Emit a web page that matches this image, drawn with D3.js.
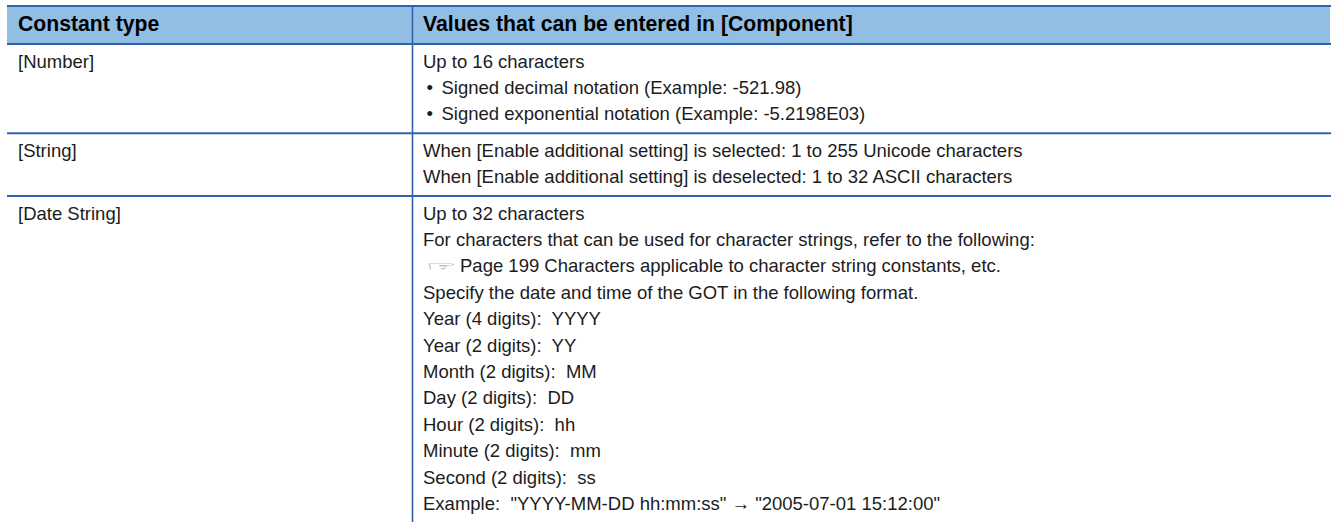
<!DOCTYPE html>
<html>
<head>
<meta charset="utf-8">
<script src="https://cdn.jsdelivr.net/npm/d3@7/dist/d3.min.js"></script>
<style>
  html, body { margin: 0; padding: 0; background: #ffffff; }
  svg { display: block; }
  text { white-space: pre; }
</style>
</head>
<body>
<svg id="tbl" width="1332" height="522"></svg>
<script>
// ---- table content ----
const headers = ["Constant type", "Values that can be entered in [Component]"];
const constantTypes = ["[Number]", "[String]", "[Date String]"];
const numberLines = [
  {t: "Up to 16 characters"},
  {t: "Signed decimal notation (Example: -521.98)", bullet: true},
  {t: "Signed exponential notation (Example: -5.2198E03)", bullet: true}
];
const stringLines = [
  {t: "When [Enable additional setting] is selected: 1 to 255 Unicode characters"},
  {t: "When [Enable additional setting] is deselected: 1 to 32 ASCII characters"}
];
const dateStringLines = [
  {t: "Up to 32 characters"},
  {t: "For characters that can be used for character strings, refer to the following:"},
  {t: "Page 199 Characters applicable to character string constants, etc.", ref: true},
  {t: "Specify the date and time of the GOT in the following format."},
  {t: "Year (4 digits):  YYYY"},
  {t: "Year (2 digits):  YY"},
  {t: "Month (2 digits):  MM"},
  {t: "Day (2 digits):  DD"},
  {t: "Hour (2 digits):  hh"},
  {t: "Minute (2 digits):  mm"},
  {t: "Second (2 digits):  ss"},
  {t: "Example:  \"YYYY-MM-DD hh:mm:ss\" \u2192 \"2005-07-01 15:12:00\""}
];
const componentValues = [numberLines, stringLines, dateStringLines];

// ---- layout ----
const W = 1332, H = 522;
const left = 7, right = 1331;
const colX = 412.5;
const topY = 6;
const headerBottom = 44;
const lineH = 26.4;
const padV = 8;
const firstBase = 22.6;
const borderColor = "#3162b0";
const headerFill = "#93bee4";
const font = "'Liberation Sans', Arial, Helvetica, sans-serif";
const bodySize = 18.5, headSize = 21.2;
const textColor = "#1c1c1c";

const svg = d3.select("#tbl");

// row positions
let y = headerBottom + 1;
const rows = constantTypes.map((c, i) => {
  const lines = componentValues[i];
  const h = lines.length * lineH + padV;
  const r = {type: c, lines, y0: y, h};
  y += h + 2;
  return r;
});

// header background
svg.append("rect").attr("x", left).attr("y", topY + 1).attr("width", right - 1 - left)
  .attr("height", headerBottom - topY - 1).attr("fill", headerFill);

// header text
svg.selectAll("text.head").data(headers).join("text")
  .attr("class", "head")
  .attr("x", (d, i) => i === 0 ? 18 : 423)
  .attr("y", 30.8)
  .attr("font-family", font).attr("font-size", headSize).attr("font-weight", "bold")
  .attr("fill", "#000").text(d => d);

// row text
const g = svg.selectAll("g.row").data(rows).join("g").attr("class", "row");
g.append("text")
  .attr("x", 18).attr("y", d => d.y0 + firstBase)
  .attr("font-family", font).attr("font-size", bodySize).attr("fill", textColor)
  .text(d => d.type);

g.each(function(r) {
  const gg = d3.select(this);
  r.lines.forEach((ln, k) => {
    const by = r.y0 + firstBase + k * lineH;
    let tx = 423;
    if (ln.bullet) {
      gg.append("text").attr("x", 426.5).attr("y", by)
        .attr("font-family", font).attr("font-size", bodySize).attr("fill", textColor)
        .text("\u2022");
      tx = 441.5;
    }
    if (ln.ref) {
      gg.append("text")
        .attr("transform", `translate(426,${by - 1.5}) scale(2.0,0.8)`)
        .attr("font-family", "'DejaVu Sans', sans-serif").attr("font-size", 17)
        .attr("fill", "#8c8c8c").text("\u261E");
      tx = 460;
    }
    gg.append("text").attr("x", tx).attr("y", by)
      .attr("font-family", font).attr("font-size", bodySize).attr("fill", textColor)
      .text(ln.t);
  });
});

// borders
const hLines = [topY, headerBottom].concat(rows.slice(0, -1).map(r => r.y0 + r.h + 1));
svg.selectAll("line.h").data(hLines).join("line").attr("class", "h")
  .attr("x1", left).attr("x2", right).attr("y1", d => d).attr("y2", d => d)
  .attr("stroke", borderColor).attr("stroke-width", 2);
svg.append("line").attr("x1", colX).attr("x2", colX).attr("y1", topY).attr("y2", H)
  .attr("stroke", borderColor).attr("stroke-width", 1.6);
</script>
</body>
</html>
